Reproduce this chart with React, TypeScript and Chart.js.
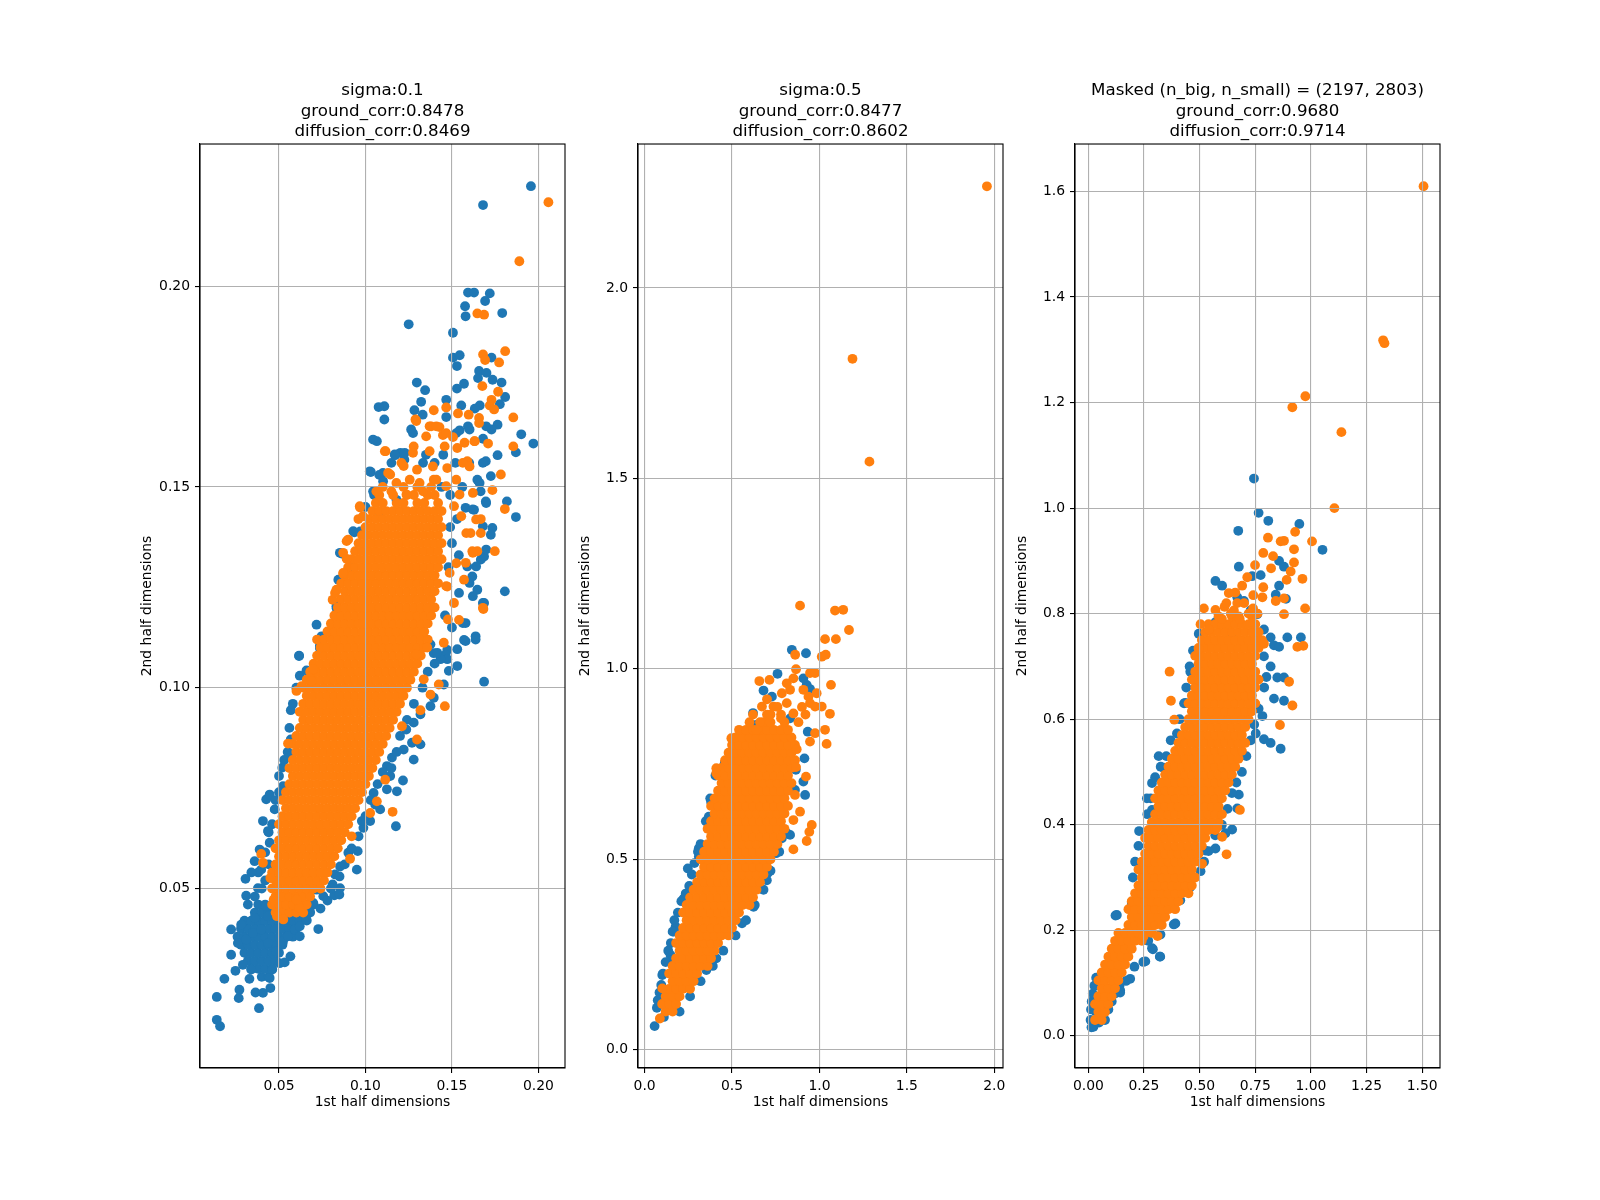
import React, { useEffect, useRef } from "react";
import { Chart, registerables } from "chart.js";

Chart.register(...registerables);

type Pt = [number, number];
type Row = [number, number[]];

const xAxisLabel = "1st half dimensions";
const yAxisLabel = "2nd half dimensions";

const p1Title = ["sigma:0.1", "ground_corr:0.8478", "diffusion_corr:0.8469"];
const p2Title = ["sigma:0.5", "ground_corr:0.8477", "diffusion_corr:0.8602"];
const p3Title = ["Masked (n_big, n_small) = (2197, 2803)", "ground_corr:0.9680", "diffusion_corr:0.9714"];

const p1XTicks = [0.05, 0.1, 0.15, 0.2];
const p1YTicks = [0.05, 0.1, 0.15, 0.2];
const p2XTicks = [0, 0.5, 1, 1.5, 2];
const p2YTicks = [0, 0.5, 1, 1.5, 2];
const p3XTicks = [0, 0.25, 0.5, 0.75, 1, 1.25, 1.5];
const p3YTicks = [0, 0.2, 0.4, 0.6, 0.8, 1, 1.2, 1.4, 1.6];

// ---------------- Panel 1 (sigma 0.1) ----------------
const p1Blue: Pt[] = [
  [0.1957, 0.2249], [0.168, 0.2202], [0.1593, 0.1984], [0.1628, 0.1984], [0.1719, 0.1982], [0.1692, 0.1963],
  [0.1576, 0.195], [0.1579, 0.1925], [0.1791, 0.1933], [0.125, 0.1905], [0.1506, 0.1884], [0.1506, 0.1822],
  [0.1545, 0.1828], [0.1529, 0.1801], [0.1729, 0.1822], [0.1657, 0.1789], [0.17, 0.1784], [0.1651, 0.1771],
  [0.1735, 0.1767], [0.1787, 0.176], [0.1297, 0.176], [0.1345, 0.1741], [0.1529, 0.1745], [0.157, 0.1757],
  [0.1808, 0.1724], [0.1777, 0.1706], [0.1661, 0.1703], [0.1632, 0.1695], [0.1467, 0.1717], [0.1554, 0.1703],
  [0.1322, 0.1712], [0.1109, 0.1701], [0.1109, 0.1668], [0.1283, 0.1691], [0.1331, 0.168], [0.1467, 0.1674],
  [0.1764, 0.1655], [0.1729, 0.1643], [0.1901, 0.1631], [0.1971, 0.1608], [0.1264, 0.1643], [0.1545, 0.1641],
  [0.1593, 0.1651], [0.168, 0.162], [0.1076, 0.1699], [0.1066, 0.1614], [0.1172, 0.1579], [0.1031, 0.1537],
  [0.1101, 0.1535], [0.1202, 0.1585], [0.1225, 0.1568], [0.187, 0.1586], [0.1764, 0.1579], [0.1696, 0.1564],
  [0.1725, 0.1527], [0.1647, 0.1518], [0.1666, 0.1489], [0.1696, 0.1464], [0.1818, 0.1464], [0.187, 0.1425],
  [0.1628, 0.1443], [0.1579, 0.1448], [0.1734, 0.1398], [0.1725, 0.1381], [0.1667, 0.1319], [0.1618, 0.1277],
  [0.1686, 0.1327], [0.1806, 0.124], [0.1686, 0.1211], [0.1647, 0.1244], [0.1589, 0.1302], [0.1541, 0.1236],
  [0.1579, 0.1161], [0.1637, 0.1128], [0.157, 0.1119], [0.0717, 0.1157], [0.0746, 0.1128], [0.0736, 0.1099],
  [0.0616, 0.108], [0.0862, 0.1334], [0.0936, 0.1387], [0.0969, 0.1389], [0.0833, 0.1198], [0.0843, 0.1269],
  [0.1531, 0.1096], [0.1473, 0.1094], [0.1395, 0.1086], [0.1463, 0.1082], [0.148, 0.13], [0.15, 0.136],
  [0.153, 0.142], [0.149, 0.148], [0.144, 0.15], [0.156, 0.15], [0.152, 0.156], [0.145, 0.158], [0.14, 0.156],
  [0.135, 0.158], [0.16, 0.156], [0.149, 0.14], [0.154, 0.133], [0.146, 0.118], [0.15, 0.115], [0.105, 0.148],
  [0.1, 0.145], [0.108, 0.153], [0.115, 0.156],
  [0.1044, 0.1618], [0.1025, 0.1539], [0.1102, 0.1514], [0.1169, 0.1581], [0.1227, 0.1585], [0.1333, 0.156],
  [0.1275, 0.1634], [0.1525, 0.1634], [0.1602, 0.1643], [0.1698, 0.1651], [0.1679, 0.156], [0.166, 0.151],
  [0.1698, 0.146], [0.1621, 0.1444], [0.1679, 0.1402], [0.1698, 0.1344], [0.164, 0.1302], [0.1602, 0.1261],
  [0.1621, 0.1228], [0.1563, 0.1161], [0.1679, 0.1211], [0.0929, 0.139], [0.0852, 0.1336], [0.091, 0.1302],
  [0.0832, 0.1203], [0.1044, 0.1489], [0.1179, 0.1468], [0.1083, 0.1427],
  [0.014, 0.0173], [0.0159, 0.0157], [0.014, 0.023], [0.0184, 0.0275], [0.0267, 0.0227], [0.0271, 0.0248],
  [0.0248, 0.0295], [0.0291, 0.031], [0.0339, 0.0298], [0.0329, 0.0275], [0.0384, 0.0202], [0.0364, 0.0241],
  [0.0407, 0.024], [0.045, 0.0252], [0.0446, 0.0277], [0.0461, 0.0298], [0.0504, 0.0314], [0.0533, 0.0316],
  [0.0566, 0.0331], [0.0223, 0.0335], [0.0223, 0.0398], [0.0262, 0.0364], [0.0281, 0.041], [0.031, 0.0373],
  [0.0349, 0.0389], [0.0397, 0.0398], [0.0359, 0.0427], [0.0436, 0.0364], [0.0484, 0.0343], [0.0523, 0.0368],
  [0.0552, 0.0381], [0.0591, 0.0398], [0.062, 0.0381], [0.062, 0.0406], [0.0678, 0.0443], [0.0727, 0.0399],
  [0.0659, 0.0422], [0.0436, 0.0431], [0.032, 0.046], [0.031, 0.0482], [0.0306, 0.0524], [0.0378, 0.0501],
  [0.0426, 0.0456], [0.0504, 0.0456], [0.0601, 0.0456], [0.0698, 0.0464], [0.0756, 0.0481], [0.082, 0.0483],
  [0.0853, 0.0501], [0.0717, 0.0497], [0.0359, 0.0568], [0.0397, 0.0547], [0.0388, 0.0597], [0.0446, 0.0614],
  [0.0407, 0.0668], [0.0436, 0.0643], [0.0426, 0.0722], [0.0446, 0.0734], [0.0475, 0.0697], [0.0519, 0.0801],
  [0.0523, 0.0755], [0.0568, 0.0871], [0.0572, 0.0834], [0.0568, 0.0944], [0.0616, 0.1079], [0.0659, 0.1043],
  [0.0736, 0.1104], [0.081, 0.051], [0.0849, 0.0485], [0.0824, 0.0535], [0.0853, 0.0555], [0.0901, 0.0589],
  [0.095, 0.0547], [0.0955, 0.0593], [0.0988, 0.0651], [0.1027, 0.0668], [0.0979, 0.0668], [0.1085, 0.0697],
  [0.1047, 0.0738], [0.1056, 0.0709], [0.1124, 0.0747], [0.1182, 0.0742], [0.1176, 0.0655], [0.1143, 0.078],
  [0.1217, 0.0769], [0.1124, 0.0805], [0.1153, 0.0826], [0.1221, 0.0846], [0.1269, 0.0863], [0.1279, 0.0821],
  [0.1318, 0.0859], [0.1236, 0.0896], [0.1279, 0.0913], [0.1318, 0.0934], [0.1376, 0.0954], [0.1395, 0.0975],
  [0.1453, 0.1008], [0.1482, 0.1042], [0.1473, 0.1071], [0.1434, 0.1071], [0.1531, 0.1054], [0.1686, 0.1015],
  [0.1579, 0.1116], [0.1637, 0.112], [0.1376, 0.1108], [0.1415, 0.1087],
  [0.04, 0.05], [0.042, 0.052], [0.038, 0.054], [0.034, 0.054], [0.036, 0.048], [0.044, 0.056], [0.042, 0.059],
  [0.044, 0.064], [0.046, 0.066], [0.048, 0.072], [0.05, 0.074], [0.05, 0.078], [0.053, 0.082], [0.055, 0.084],
  [0.056, 0.09], [0.058, 0.096], [0.06, 0.1], [0.062, 0.103], [0.074, 0.045], [0.078, 0.047], [0.08, 0.05],
  [0.085, 0.053], [0.088, 0.056], [0.092, 0.06], [0.096, 0.063], [0.1, 0.068], [0.103, 0.072], [0.107, 0.076],
  [0.11, 0.079], [0.115, 0.08], [0.118, 0.084], [0.12, 0.088], [0.124, 0.092], [0.128, 0.096], [0.133, 0.1],
  [0.136, 0.104], [0.14, 0.106],
];

const p1BlueCore: Row[] = [
  [0.028, [0.04, 0.044]],
  [0.03, [0.034, 0.038, 0.042, 0.046]],
  [0.032, [0.032, 0.036, 0.04, 0.044, 0.048]],
  [0.034, [0.03, 0.034, 0.038, 0.042, 0.046, 0.05]],
  [0.036, [0.028, 0.032, 0.036, 0.04, 0.044, 0.048, 0.052]],
  [0.038, [0.026, 0.03, 0.034, 0.038, 0.042, 0.046, 0.05, 0.054, 0.058]],
  [0.04, [0.028, 0.032, 0.036, 0.04, 0.044, 0.048, 0.052, 0.056, 0.06]],
  [0.042, [0.03, 0.034, 0.038, 0.042, 0.046, 0.05, 0.054, 0.058, 0.062, 0.066]],
  [0.044, [0.036, 0.04, 0.044, 0.048, 0.052, 0.056, 0.06, 0.064, 0.068]],
  [0.046, [0.038, 0.042, 0.046, 0.05, 0.054, 0.058, 0.062, 0.066, 0.07]],
];

const p1Orange: Pt[] = [
  [0.2058, 0.2209], [0.189, 0.2062], [0.1647, 0.1932], [0.1686, 0.1929], [0.168, 0.183], [0.1692, 0.1816],
  [0.1773, 0.181], [0.1808, 0.1838], [0.1676, 0.1751], [0.1767, 0.1737], [0.1729, 0.1717], [0.1719, 0.1703],
  [0.1744, 0.1693], [0.1855, 0.1673], [0.1395, 0.1691], [0.1467, 0.1698], [0.1597, 0.168], [0.1657, 0.1672],
  [0.1657, 0.1659], [0.1535, 0.1683], [0.1289, 0.1668], [0.138, 0.1651], [0.1428, 0.1649], [0.1448, 0.1629],
  [0.1351, 0.1626], [0.1506, 0.1624], [0.1632, 0.1614], [0.1709, 0.1608], [0.1855, 0.1601],
  [0.1116, 0.1589], [0.0969, 0.1449], [0.0959, 0.142], [0.0891, 0.1365], [0.0891, 0.1321], [0.0872, 0.1283],
  [0.081, 0.1219], [0.0824, 0.1236], [0.1783, 0.1531], [0.1734, 0.1492], [0.1806, 0.1445], [0.1667, 0.142],
  [0.1667, 0.1385], [0.1618, 0.134], [0.1748, 0.134], [0.1647, 0.134], [0.1682, 0.1196], [0.1541, 0.1169],
  [0.1512, 0.1211], [0.1473, 0.1252], [0.157, 0.1269], [0.158, 0.1311], [0.1608, 0.1385], [0.1512, 0.1452],
  [0.1395, 0.1518], [0.1473, 0.1547], [0.1531, 0.1597], [0.1589, 0.1564], [0.1279, 0.1601], [0.1221, 0.1552],
  [0.1298, 0.1543], [0.1143, 0.1531],
  [0.1112, 0.1589], [0.1208, 0.156], [0.1275, 0.1585], [0.1371, 0.1589], [0.139, 0.1551], [0.1458, 0.1601],
  [0.1467, 0.1634], [0.1371, 0.1651], [0.141, 0.1651], [0.1294, 0.1664], [0.1573, 0.161], [0.163, 0.1614],
  [0.1563, 0.156], [0.1602, 0.1551], [0.1525, 0.1518], [0.1131, 0.1535], [0.1179, 0.151], [0.1256, 0.1518],
  [0.1313, 0.151], [0.141, 0.1518], [0.1467, 0.1502], [0.1063, 0.1489], [0.115, 0.1489], [0.1237, 0.1481],
  [0.1333, 0.1489], [0.1544, 0.1481], [0.1621, 0.1485], [0.0967, 0.1452], [0.0986, 0.1427], [0.1554, 0.1427],
  [0.164, 0.1419], [0.1583, 0.1385], [0.1621, 0.1336], [0.09, 0.1369], [0.0871, 0.1336], [0.0871, 0.1286],
  [0.0832, 0.1244], [0.1525, 0.131], [0.1487, 0.1286], [0.1467, 0.1253], [0.1477, 0.117], [0.1679, 0.1199],
  [0.1459, 0.0954], [0.1298, 0.0871], [0.1318, 0.0944], [0.1376, 0.0983], [0.1424, 0.1008], [0.1337, 0.1021],
  [0.1295, 0.1083], [0.1357, 0.11], [0.1453, 0.1112], [0.1157, 0.0691], [0.1066, 0.0717], [0.1027, 0.0688],
  [0.092, 0.063], [0.0911, 0.0574], [0.1211, 0.0904], [0.1114, 0.0771], [0.0397, 0.0586], [0.0407, 0.0564],
  [0.045, 0.0526], [0.0469, 0.0472], [0.0488, 0.0431], [0.0525, 0.0423], [0.0617, 0.0452], [0.0601, 0.0472],
  [0.0552, 0.0861], [0.0601, 0.0992], [0.063, 0.1004], [0.0688, 0.1017], [0.0698, 0.1046],
];

const p1OrangeCore: Row[] = [
  [0.044, [0.048, 0.052, 0.056, 0.06, 0.064]],
  [0.046, [0.046, 0.05, 0.054, 0.058, 0.062, 0.066]],
  [0.048, [0.048, 0.052, 0.056, 0.06, 0.064, 0.068]],
  [0.05, [0.046, 0.05, 0.054, 0.058, 0.062, 0.066, 0.07, 0.074]],
  [0.052, [0.048, 0.052, 0.056, 0.06, 0.064, 0.068, 0.072, 0.076]],
  [0.054, [0.046, 0.05, 0.054, 0.058, 0.062, 0.066, 0.07, 0.074, 0.078]],
  [0.056, [0.048, 0.052, 0.056, 0.06, 0.064, 0.068, 0.072, 0.076, 0.08]],
  [0.058, [0.05, 0.054, 0.058, 0.062, 0.066, 0.07, 0.074, 0.078, 0.082]],
  [0.06, [0.048, 0.052, 0.056, 0.06, 0.064, 0.068, 0.072, 0.076, 0.08, 0.084]],
  [0.062, [0.05, 0.054, 0.058, 0.062, 0.066, 0.07, 0.074, 0.078, 0.082, 0.086]],
  [0.064, [0.052, 0.056, 0.06, 0.064, 0.068, 0.072, 0.076, 0.08, 0.084, 0.088]],
  [0.066, [0.05, 0.054, 0.058, 0.062, 0.066, 0.07, 0.074, 0.078, 0.082, 0.086, 0.09]],
  [0.068, [0.052, 0.056, 0.06, 0.064, 0.068, 0.072, 0.076, 0.08, 0.084, 0.088, 0.092]],
  [0.07, [0.054, 0.058, 0.062, 0.066, 0.07, 0.074, 0.078, 0.082, 0.086, 0.09, 0.094]],
  [0.072, [0.052, 0.056, 0.06, 0.064, 0.068, 0.072, 0.076, 0.08, 0.084, 0.088, 0.092, 0.096]],
  [0.074, [0.054, 0.058, 0.062, 0.066, 0.07, 0.074, 0.078, 0.082, 0.086, 0.09, 0.094, 0.098]],
  [0.076, [0.056, 0.06, 0.064, 0.068, 0.072, 0.076, 0.08, 0.084, 0.088, 0.092, 0.096, 0.1]],
  [0.078, [0.058, 0.062, 0.066, 0.07, 0.074, 0.078, 0.082, 0.086, 0.09, 0.094, 0.098, 0.102]],
  [0.08, [0.056, 0.06, 0.064, 0.068, 0.072, 0.076, 0.08, 0.084, 0.088, 0.092, 0.096, 0.1, 0.104]],
  [0.082, [0.058, 0.062, 0.066, 0.07, 0.074, 0.078, 0.082, 0.086, 0.09, 0.094, 0.098, 0.102, 0.106]],
  [0.084, [0.06, 0.064, 0.068, 0.072, 0.076, 0.08, 0.084, 0.088, 0.092, 0.096, 0.1, 0.104, 0.108]],
  [0.086, [0.058, 0.062, 0.066, 0.07, 0.074, 0.078, 0.082, 0.086, 0.09, 0.094, 0.098, 0.102, 0.106, 0.11]],
  [0.088, [0.06, 0.064, 0.068, 0.072, 0.076, 0.08, 0.084, 0.088, 0.092, 0.096, 0.1, 0.104, 0.108, 0.112]],
  [0.09, [0.062, 0.066, 0.07, 0.074, 0.078, 0.082, 0.086, 0.09, 0.094, 0.098, 0.102, 0.106, 0.11, 0.114]],
  [0.092, [0.064, 0.068, 0.072, 0.076, 0.08, 0.084, 0.088, 0.092, 0.096, 0.1, 0.104, 0.108, 0.112, 0.116]],
  [0.094, [0.062, 0.066, 0.07, 0.074, 0.078, 0.082, 0.086, 0.09, 0.094, 0.098, 0.102, 0.106, 0.11, 0.114, 0.118]],
  [0.096, [0.064, 0.068, 0.072, 0.076, 0.08, 0.084, 0.088, 0.092, 0.096, 0.1, 0.104, 0.108, 0.112, 0.116, 0.12]],
  [0.098, [0.066, 0.07, 0.074, 0.078, 0.082, 0.086, 0.09, 0.094, 0.098, 0.102, 0.106, 0.11, 0.114, 0.118, 0.122]],
  [0.1, [0.064, 0.068, 0.072, 0.076, 0.08, 0.084, 0.088, 0.092, 0.096, 0.1, 0.104, 0.108, 0.112, 0.116, 0.12, 0.124]],
  [0.102, [0.066, 0.07, 0.074, 0.078, 0.082, 0.086, 0.09, 0.094, 0.098, 0.102, 0.106, 0.11, 0.114, 0.118, 0.122, 0.126]],
  [0.104, [0.068, 0.072, 0.076, 0.08, 0.084, 0.088, 0.092, 0.096, 0.1, 0.104, 0.108, 0.112, 0.116, 0.12, 0.124, 0.128]],
  [0.106, [0.07, 0.074, 0.078, 0.082, 0.086, 0.09, 0.094, 0.098, 0.102, 0.106, 0.11, 0.114, 0.118, 0.122, 0.126, 0.13]],
  [0.108, [0.072, 0.076, 0.08, 0.084, 0.088, 0.092, 0.096, 0.1, 0.104, 0.108, 0.112, 0.116, 0.12, 0.124, 0.128, 0.132]],
  [0.11, [0.074, 0.078, 0.082, 0.086, 0.09, 0.094, 0.098, 0.102, 0.106, 0.11, 0.114, 0.118, 0.122, 0.126, 0.13, 0.134]],
  [0.112, [0.072, 0.076, 0.08, 0.084, 0.088, 0.092, 0.096, 0.1, 0.104, 0.108, 0.112, 0.116, 0.12, 0.124, 0.128, 0.132, 0.136]],
  [0.114, [0.078, 0.082, 0.086, 0.09, 0.094, 0.098, 0.102, 0.106, 0.11, 0.114, 0.118, 0.122, 0.126, 0.13, 0.134]],
  [0.116, [0.08, 0.084, 0.088, 0.092, 0.096, 0.1, 0.104, 0.108, 0.112, 0.116, 0.12, 0.124, 0.128, 0.132, 0.136]],
  [0.118, [0.082, 0.086, 0.09, 0.094, 0.098, 0.102, 0.106, 0.11, 0.114, 0.118, 0.122, 0.126, 0.13, 0.134, 0.138]],
  [0.12, [0.084, 0.088, 0.092, 0.096, 0.1, 0.104, 0.108, 0.112, 0.116, 0.12, 0.124, 0.128, 0.132, 0.136, 0.14]],
  [0.122, [0.086, 0.09, 0.094, 0.098, 0.102, 0.106, 0.11, 0.114, 0.118, 0.122, 0.126, 0.13, 0.134, 0.138]],
  [0.124, [0.088, 0.092, 0.096, 0.1, 0.104, 0.108, 0.112, 0.116, 0.12, 0.124, 0.128, 0.132, 0.136, 0.14]],
  [0.126, [0.086, 0.09, 0.094, 0.098, 0.102, 0.106, 0.11, 0.114, 0.118, 0.122, 0.126, 0.13, 0.134, 0.138, 0.142]],
  [0.128, [0.088, 0.092, 0.096, 0.1, 0.104, 0.108, 0.112, 0.116, 0.12, 0.124, 0.128, 0.132, 0.136, 0.14]],
  [0.13, [0.09, 0.094, 0.098, 0.102, 0.106, 0.11, 0.114, 0.118, 0.122, 0.126, 0.13, 0.134, 0.138, 0.142]],
  [0.132, [0.092, 0.096, 0.1, 0.104, 0.108, 0.112, 0.116, 0.12, 0.124, 0.128, 0.132, 0.136, 0.14, 0.144]],
  [0.134, [0.094, 0.098, 0.102, 0.106, 0.11, 0.114, 0.118, 0.122, 0.126, 0.13, 0.134, 0.138, 0.142]],
  [0.136, [0.096, 0.1, 0.104, 0.108, 0.112, 0.116, 0.12, 0.124, 0.128, 0.132, 0.136, 0.14, 0.144]],
  [0.138, [0.098, 0.102, 0.106, 0.11, 0.114, 0.118, 0.122, 0.126, 0.13, 0.134, 0.138, 0.142]],
  [0.14, [0.1, 0.104, 0.108, 0.112, 0.116, 0.12, 0.124, 0.128, 0.132, 0.136, 0.14, 0.144]],
  [0.142, [0.102, 0.106, 0.11, 0.114, 0.118, 0.122, 0.126, 0.13, 0.134, 0.138, 0.142]],
  [0.144, [0.104, 0.108, 0.112, 0.116, 0.12, 0.124, 0.128, 0.132, 0.136, 0.14, 0.144]],
  [0.146, [0.106, 0.11, 0.118, 0.122, 0.13, 0.134, 0.142]],
  [0.148, [0.108, 0.116, 0.124, 0.128, 0.136, 0.14]],
  [0.15, [0.11, 0.122, 0.13, 0.138]],
];

// ---------------- Panel 2 (sigma 0.5) ----------------
const p2Blue: Pt[] = [
  [0.842, 1.05], [0.923, 1.041], [0.76, 0.987], [0.68, 0.943], [0.728, 0.927], [0.62, 0.884], [0.639, 0.853],
  [0.62, 0.835], [0.832, 0.87], [0.927, 0.958], [0.908, 0.975], [0.946, 0.947], [0.914, 0.765], [0.933, 0.835],
  [0.865, 0.735], [0.908, 0.704], [0.918, 0.669], [0.86, 0.682], [0.832, 0.564], [0.785, 0.555], [0.752, 0.516],
  [0.703, 0.463], [0.699, 0.445], [0.623, 0.375], [0.557, 0.332], [0.41, 0.24], [0.353, 0.209], [0.177, 0.323],
  [0.167, 0.31], [0.224, 0.397], [0.247, 0.476], [0.31, 0.529], [0.31, 0.507], [0.38, 0.651], [0.367, 0.612],
  [0.458, 0.752], [0.528, 0.796], [0.148, 0.249], [0.148, 0.235], [0.101, 0.196], [0.091, 0.13], [0.11, 0.086],
  [0.057, 0.062],
  [0.07, 0.11], [0.075, 0.13], [0.085, 0.15], [0.095, 0.17], [0.105, 0.2], [0.12, 0.23], [0.135, 0.26],
  [0.15, 0.28], [0.16, 0.31], [0.17, 0.34], [0.19, 0.36], [0.21, 0.39], [0.235, 0.41], [0.255, 0.43],
  [0.27, 0.46], [0.285, 0.49], [0.305, 0.52], [0.32, 0.54], [0.35, 0.6], [0.375, 0.66], [0.405, 0.72],
  [0.2, 0.1], [0.26, 0.14], [0.32, 0.18], [0.39, 0.22], [0.45, 0.26], [0.52, 0.3], [0.58, 0.34], [0.63, 0.38],
  [0.68, 0.42], [0.72, 0.47], [0.77, 0.52], [0.81, 0.57],
];

const p2Orange: Pt[] = [
  [1.958, 2.267], [1.189, 1.814], [1.286, 1.544],
  [0.889, 1.166], [1.089, 1.153], [1.136, 1.155], [1.169, 1.102], [1.032, 1.078], [1.094, 1.078], [0.861, 1.037],
  [1.013, 1.032], [1.036, 1.037], [0.866, 0.999], [0.946, 0.989], [0.975, 0.989], [1.066, 0.958], [0.656, 0.968],
  [0.714, 0.971], [0.813, 0.962], [0.851, 0.975], [0.785, 0.936], [0.832, 0.945], [0.908, 0.945], [0.937, 0.927],
  [0.984, 0.936], [0.946, 0.91], [0.975, 0.901], [1.013, 0.901], [1.06, 0.882], [0.851, 0.883], [0.671, 0.901],
  [0.737, 0.901], [0.813, 0.91], [1.032, 0.84], [0.975, 0.831], [1.041, 0.803], [0.946, 0.809], [0.87, 0.789],
  [0.866, 0.742], [0.923, 0.717], [0.86, 0.669], [0.889, 0.625], [0.851, 0.603], [0.956, 0.59], [0.942, 0.572],
  [0.927, 0.548], [0.851, 0.526], [0.496, 0.818], [0.41, 0.739], [0.41, 0.726], [0.101, 0.161], [0.087, 0.082],
  [0.7, 0.92], [0.76, 0.9], [0.72, 0.88], [0.78, 0.87], [0.88, 0.86], [0.9, 0.9], [0.92, 0.88], [0.66, 0.86],
  [0.64, 0.84],
];

const p2OrangeCore: Row[] = [
  [0.1, [0.12, 0.16]],
  [0.12, [0.1, 0.14, 0.18]],
  [0.14, [0.12, 0.16, 0.2]],
  [0.16, [0.14, 0.18, 0.22, 0.26]],
  [0.18, [0.16, 0.2, 0.24, 0.28]],
  [0.2, [0.14, 0.18, 0.22, 0.26, 0.3]],
  [0.22, [0.16, 0.2, 0.24, 0.28, 0.32, 0.36]],
  [0.24, [0.18, 0.22, 0.26, 0.3, 0.34, 0.38]],
  [0.26, [0.2, 0.24, 0.28, 0.32, 0.36, 0.4]],
  [0.28, [0.18, 0.22, 0.26, 0.3, 0.34, 0.38, 0.42]],
  [0.3, [0.2, 0.24, 0.28, 0.32, 0.36, 0.4, 0.44, 0.48]],
  [0.32, [0.22, 0.26, 0.3, 0.34, 0.38, 0.42, 0.46, 0.5]],
  [0.34, [0.24, 0.28, 0.32, 0.36, 0.4, 0.44, 0.48, 0.52]],
  [0.36, [0.22, 0.26, 0.3, 0.34, 0.38, 0.42, 0.46, 0.5, 0.54]],
  [0.38, [0.24, 0.28, 0.32, 0.36, 0.4, 0.44, 0.48, 0.52, 0.56, 0.6]],
  [0.4, [0.26, 0.3, 0.34, 0.38, 0.42, 0.46, 0.5, 0.54, 0.58, 0.62]],
  [0.42, [0.28, 0.32, 0.36, 0.4, 0.44, 0.48, 0.52, 0.56, 0.6, 0.64]],
  [0.44, [0.3, 0.34, 0.38, 0.42, 0.46, 0.5, 0.54, 0.58, 0.62, 0.66]],
  [0.46, [0.32, 0.36, 0.4, 0.44, 0.48, 0.52, 0.56, 0.6, 0.64, 0.68]],
  [0.48, [0.34, 0.38, 0.42, 0.46, 0.5, 0.54, 0.58, 0.62, 0.66, 0.7]],
  [0.5, [0.32, 0.36, 0.4, 0.44, 0.48, 0.52, 0.56, 0.6, 0.64, 0.68, 0.72]],
  [0.52, [0.34, 0.38, 0.42, 0.46, 0.5, 0.54, 0.58, 0.62, 0.66, 0.7, 0.74]],
  [0.54, [0.36, 0.4, 0.44, 0.48, 0.52, 0.56, 0.6, 0.64, 0.68, 0.72, 0.76]],
  [0.56, [0.38, 0.42, 0.46, 0.5, 0.54, 0.58, 0.62, 0.66, 0.7, 0.74, 0.78]],
  [0.58, [0.36, 0.4, 0.44, 0.48, 0.52, 0.56, 0.6, 0.64, 0.68, 0.72, 0.76, 0.8]],
  [0.6, [0.38, 0.42, 0.46, 0.5, 0.54, 0.58, 0.62, 0.66, 0.7, 0.74, 0.78]],
  [0.62, [0.4, 0.44, 0.48, 0.52, 0.56, 0.6, 0.64, 0.68, 0.72, 0.76, 0.8]],
  [0.64, [0.38, 0.42, 0.46, 0.5, 0.54, 0.58, 0.62, 0.66, 0.7, 0.74, 0.78, 0.82]],
  [0.66, [0.4, 0.44, 0.48, 0.52, 0.56, 0.6, 0.64, 0.68, 0.72, 0.76, 0.8]],
  [0.68, [0.42, 0.46, 0.5, 0.54, 0.58, 0.62, 0.66, 0.7, 0.74, 0.78, 0.82]],
  [0.7, [0.44, 0.48, 0.52, 0.56, 0.6, 0.64, 0.68, 0.72, 0.76, 0.8, 0.84]],
  [0.72, [0.42, 0.46, 0.5, 0.54, 0.58, 0.62, 0.66, 0.7, 0.74, 0.78, 0.82]],
  [0.74, [0.44, 0.48, 0.52, 0.56, 0.6, 0.64, 0.68, 0.72, 0.76, 0.8, 0.84]],
  [0.76, [0.46, 0.5, 0.54, 0.58, 0.62, 0.66, 0.7, 0.74, 0.78, 0.82, 0.86]],
  [0.78, [0.48, 0.52, 0.56, 0.6, 0.64, 0.68, 0.72, 0.76, 0.8, 0.84]],
  [0.8, [0.5, 0.54, 0.58, 0.62, 0.66, 0.7, 0.74, 0.78, 0.82, 0.86]],
  [0.82, [0.52, 0.56, 0.6, 0.64, 0.68, 0.72, 0.76, 0.8, 0.84]],
  [0.84, [0.54, 0.58, 0.62, 0.66, 0.7, 0.74, 0.78, 0.82]],
  [0.86, [0.6, 0.68, 0.72, 0.8]],
  [0.88, [0.62, 0.7, 0.78]],
];

// ---------------- Panel 3 (masked) ----------------
const p3Blue: Pt[] = [
  [0.744, 1.056], [0.765, 0.991], [0.8085, 0.976], [0.948, 0.97], [0.6735, 0.957], [1.052, 0.921], [0.676, 0.889],
  [0.571, 0.862], [0.601, 0.853], [0.736, 0.871], [0.774, 0.873], [0.857, 0.9], [0.879, 0.889], [0.857, 0.853],
  [0.842, 0.836], [0.888, 0.828], [0.669, 0.831], [0.699, 0.824], [0.729, 0.806], [0.759, 0.799], [0.571, 0.784],
  [0.496, 0.762], [0.616, 0.766], [0.646, 0.755], [0.789, 0.77], [0.819, 0.755], [0.834, 0.74], [0.857, 0.737],
  [0.894, 0.755], [0.955, 0.755], [0.789, 0.719], [0.819, 0.7], [0.849, 0.679], [0.879, 0.679], [0.834, 0.639],
  [0.879, 0.635], [0.782, 0.606], [0.789, 0.562], [0.819, 0.555], [0.864, 0.544], [0.752, 0.573], [0.458, 0.69],
  [0.436, 0.631], [0.398, 0.573], [0.316, 0.53], [0.338, 0.508], [0.286, 0.479], [0.263, 0.45], [0.286, 0.428],
  [0.228, 0.388], [0.21, 0.33], [0.128, 0.229], [0.143, 0.177], [0.256, 0.141], [0.286, 0.166], [0.323, 0.15],
  [0.391, 0.213], [0.413, 0.257], [0.458, 0.282], [0.526, 0.351], [0.571, 0.355], [0.646, 0.391], [0.616, 0.384],
  [0.676, 0.457], [0.669, 0.431], [0.504, 0.312], [0.188, 0.108], [0.143, 0.086], [0.113, 0.079], [0.023, 0.017],
  [0.015, 0.028], [0.122, 0.228], [0.247, 0.14], [0.321, 0.15], [0.207, 0.131], [0.29, 0.164], [0.269, 0.18],
  [0.384, 0.211], [0.324, 0.192], [0.143, 0.082], [0.169, 0.104], [0.014, 0.016], [0.01, 0.03], [0.031, 0.047],
  [0.048, 0.025], [0.195, 0.252],
  [0.012, 0.05], [0.015, 0.065], [0.02, 0.08], [0.027, 0.095], [0.035, 0.11], [0.075, 0.03], [0.09, 0.05],
  [0.105, 0.065], [0.12, 0.08], [0.14, 0.095],
  [0.2, 0.3], [0.225, 0.36], [0.265, 0.42], [0.28, 0.45], [0.3, 0.49], [0.325, 0.51], [0.35, 0.53], [0.37, 0.56],
  [0.41, 0.6], [0.43, 0.63], [0.44, 0.66], [0.455, 0.7], [0.47, 0.73],
  [0.52, 0.33], [0.54, 0.35], [0.57, 0.38], [0.6, 0.4], [0.625, 0.43], [0.645, 0.46], [0.665, 0.48], [0.69, 0.5],
  [0.71, 0.53], [0.73, 0.56], [0.745, 0.59], [0.765, 0.62], [0.79, 0.66], [0.8, 0.68],
];

const p3Orange: Pt[] = [
  [1.506, 1.61], [1.3245, 1.318], [1.3305, 1.3125], [0.975, 1.212], [0.9165, 1.191], [1.137, 1.144], [1.1055, 1.0],
  [0.807, 0.944], [0.864, 0.937], [0.879, 0.938], [0.929, 0.955], [1.005, 0.937], [0.924, 0.922], [0.786, 0.915],
  [0.83, 0.909], [0.924, 0.897], [0.749, 0.892], [0.821, 0.886], [0.909, 0.88], [0.962, 0.866], [0.714, 0.869],
  [0.691, 0.853], [0.891, 0.864], [0.786, 0.85], [0.741, 0.835], [0.782, 0.831], [0.842, 0.824], [0.879, 0.829],
  [0.631, 0.839], [0.669, 0.82], [0.519, 0.81], [0.571, 0.807], [0.612, 0.813], [0.654, 0.806], [0.974, 0.81],
  [0.879, 0.799], [0.504, 0.78], [0.541, 0.77], [0.496, 0.733], [0.939, 0.737], [0.966, 0.739], [0.789, 0.743],
  [0.902, 0.671], [0.917, 0.626], [0.861, 0.589], [0.365, 0.69], [0.371, 0.635], [0.386, 0.599], [0.681, 0.428],
  [0.621, 0.344], [0.511, 0.326], [0.601, 0.377], [0.579, 0.395], [0.311, 0.189], [0.248, 0.188],
  [0.6, 0.79], [0.64, 0.8], [0.68, 0.79], [0.72, 0.8], [0.7, 0.82], [0.62, 0.82], [0.66, 0.84], [0.74, 0.81],
  [0.76, 0.8],
];

const p3OrangeCore: Row[] = [
  [0.03, [0.03, 0.06]],
  [0.045, [0.045, 0.075]],
  [0.06, [0.03, 0.06, 0.09]],
  [0.075, [0.045, 0.075, 0.105]],
  [0.09, [0.06, 0.09, 0.12]],
  [0.105, [0.045, 0.075, 0.105, 0.135]],
  [0.12, [0.06, 0.09, 0.12, 0.15]],
  [0.135, [0.075, 0.105, 0.135, 0.165]],
  [0.15, [0.09, 0.12, 0.15, 0.18]],
  [0.165, [0.105, 0.135, 0.165, 0.195]],
  [0.18, [0.12, 0.15, 0.18, 0.21, 0.24]],
  [0.195, [0.135, 0.165, 0.195, 0.225, 0.255, 0.285]],
  [0.21, [0.18, 0.21, 0.24, 0.27, 0.3, 0.33]],
  [0.225, [0.195, 0.225, 0.255, 0.285, 0.315, 0.345]],
  [0.24, [0.18, 0.21, 0.24, 0.27, 0.3, 0.33, 0.36, 0.39]],
  [0.255, [0.195, 0.225, 0.255, 0.285, 0.315, 0.345, 0.375, 0.405]],
  [0.27, [0.21, 0.24, 0.27, 0.3, 0.33, 0.36, 0.39, 0.42, 0.45]],
  [0.285, [0.225, 0.255, 0.285, 0.315, 0.345, 0.375, 0.405, 0.435, 0.465]],
  [0.3, [0.24, 0.27, 0.3, 0.33, 0.36, 0.39, 0.42, 0.45, 0.48]],
  [0.315, [0.225, 0.255, 0.285, 0.315, 0.345, 0.375, 0.405, 0.435, 0.465]],
  [0.33, [0.24, 0.27, 0.3, 0.33, 0.36, 0.39, 0.42, 0.45, 0.48]],
  [0.345, [0.255, 0.285, 0.315, 0.345, 0.375, 0.405, 0.435, 0.465, 0.495]],
  [0.36, [0.27, 0.3, 0.33, 0.36, 0.39, 0.42, 0.45, 0.48, 0.51]],
  [0.375, [0.255, 0.285, 0.315, 0.345, 0.375, 0.405, 0.435, 0.465, 0.495, 0.525]],
  [0.39, [0.27, 0.3, 0.33, 0.36, 0.39, 0.42, 0.45, 0.48, 0.51, 0.54, 0.57]],
  [0.405, [0.285, 0.315, 0.345, 0.375, 0.405, 0.435, 0.465, 0.495, 0.525, 0.555, 0.585]],
  [0.42, [0.3, 0.33, 0.36, 0.39, 0.42, 0.45, 0.48, 0.51, 0.54, 0.57, 0.6]],
  [0.435, [0.315, 0.345, 0.375, 0.405, 0.435, 0.465, 0.495, 0.525, 0.555, 0.585]],
  [0.45, [0.3, 0.33, 0.36, 0.39, 0.42, 0.45, 0.48, 0.51, 0.54, 0.57, 0.6]],
  [0.465, [0.315, 0.345, 0.375, 0.405, 0.435, 0.465, 0.495, 0.525, 0.555, 0.585, 0.615]],
  [0.48, [0.33, 0.36, 0.39, 0.42, 0.45, 0.48, 0.51, 0.54, 0.57, 0.6, 0.63]],
  [0.495, [0.345, 0.375, 0.405, 0.435, 0.465, 0.495, 0.525, 0.555, 0.585, 0.615, 0.645]],
  [0.51, [0.36, 0.39, 0.42, 0.45, 0.48, 0.51, 0.54, 0.57, 0.6, 0.63, 0.66]],
  [0.525, [0.375, 0.405, 0.435, 0.465, 0.495, 0.525, 0.555, 0.585, 0.615, 0.645, 0.675]],
  [0.54, [0.39, 0.42, 0.45, 0.48, 0.51, 0.54, 0.57, 0.6, 0.63, 0.66, 0.69]],
  [0.555, [0.405, 0.435, 0.465, 0.495, 0.525, 0.555, 0.585, 0.615, 0.645, 0.675, 0.705]],
  [0.57, [0.42, 0.45, 0.48, 0.51, 0.54, 0.57, 0.6, 0.63, 0.66, 0.69]],
  [0.585, [0.435, 0.465, 0.495, 0.525, 0.555, 0.585, 0.615, 0.645, 0.675, 0.705]],
  [0.6, [0.45, 0.48, 0.51, 0.54, 0.57, 0.6, 0.63, 0.66, 0.69, 0.72]],
  [0.615, [0.465, 0.495, 0.525, 0.555, 0.585, 0.615, 0.645, 0.675, 0.705, 0.735]],
  [0.63, [0.45, 0.48, 0.51, 0.54, 0.57, 0.6, 0.63, 0.66, 0.69, 0.72, 0.75]],
  [0.645, [0.465, 0.495, 0.525, 0.555, 0.585, 0.615, 0.645, 0.675, 0.705, 0.735]],
  [0.66, [0.48, 0.51, 0.54, 0.57, 0.6, 0.63, 0.66, 0.69, 0.72, 0.75]],
  [0.675, [0.465, 0.495, 0.525, 0.555, 0.585, 0.615, 0.645, 0.675, 0.705, 0.735, 0.765]],
  [0.69, [0.48, 0.51, 0.54, 0.57, 0.6, 0.63, 0.66, 0.69, 0.72, 0.75]],
  [0.705, [0.495, 0.525, 0.555, 0.585, 0.615, 0.645, 0.675, 0.705, 0.735]],
  [0.72, [0.48, 0.51, 0.54, 0.57, 0.6, 0.63, 0.66, 0.69, 0.72, 0.75]],
  [0.735, [0.495, 0.525, 0.555, 0.585, 0.615, 0.645, 0.675, 0.705, 0.735, 0.765]],
  [0.75, [0.51, 0.54, 0.57, 0.6, 0.63, 0.66, 0.69, 0.72, 0.75, 0.78]],
  [0.765, [0.525, 0.555, 0.585, 0.615, 0.645, 0.675, 0.705, 0.735, 0.765]],
  [0.78, [0.54, 0.57, 0.6, 0.63, 0.66, 0.69, 0.72, 0.75]],
  [0.795, [0.585, 0.645, 0.675, 0.735]],
];

// ---------------- rendering ----------------
const FONT = "'DejaVu Sans', 'Liberation Sans', sans-serif";
const BLUE = "#1f77b4";
const ORANGE = "#ff7f0e";
const POINT_R = 4.9;

const toXY = (pts: Pt[]) => pts.map(([x, y]) => ({ x, y }));
const expandRows = (rows: Row[]) => rows.flatMap(([y, xs]) => xs.map((x) => ({ x, y })));

const framePlugin = {
  id: "frame",
  afterDraw(chart: any) {
    const { ctx, chartArea: a } = chart;
    ctx.save();
    ctx.strokeStyle = "#000";
    ctx.lineWidth = 1.1;
    ctx.strokeRect(a.left, a.top, a.right - a.left, a.bottom - a.top);
    ctx.restore();
  },
};

interface PanelProps {
  axLeft: number;
  title: string[];
  blue: Pt[];
  blueCore: Row[];
  orange: Pt[];
  core: Row[];
  xMin: number;
  xMax: number;
  yMin: number;
  yMax: number;
  xTicks: number[];
  yTicks: number[];
  xDec: number;
  yDec: number;
}

const Y_BOX = 70;
const RIGHT_PAD = 30;
const X_BOX = 50;
const TITLE_PAD = 1.5;
const TITLE_H = 62.5 + TITLE_PAD;
const PLOT_W = 365;
const PLOT_H = 924;
const CANVAS_W = Y_BOX + PLOT_W + RIGHT_PAD;
const CANVAS_H = TITLE_H + PLOT_H + X_BOX;

function Panel(p: PanelProps) {
  const ref = useRef<HTMLCanvasElement | null>(null);
  useEffect(() => {
    if (!ref.current) return;
    const tickFont = { family: FONT, size: 13.9 };
    const gridOpts = {
      color: "#b0b0b0",
      lineWidth: 1.1,
      tickColor: "#000",
      tickLength: 5,
      tickWidth: 1.1,
      z: 1,
    };
    const borderOpts = { display: true, color: "#000", width: 1.1, z: 1 };
    const chart = new Chart(ref.current, {
      type: "scatter",
      data: {
        datasets: [
          {
            data: [...expandRows(p.blueCore), ...toXY(p.blue)],
            backgroundColor: BLUE,
            borderWidth: 0,
            pointRadius: POINT_R,
            pointHoverRadius: POINT_R,
            order: 2,
          },
          {
            data: [...expandRows(p.core), ...toXY(p.orange)],
            backgroundColor: ORANGE,
            borderWidth: 0,
            pointRadius: POINT_R,
            pointHoverRadius: POINT_R,
            order: 1,
          },
        ],
      },
      options: {
        animation: false,
        responsive: false,
        events: [],
        layout: { padding: { left: 0, right: RIGHT_PAD, top: 0, bottom: 0 } },
        plugins: {
          legend: { display: false },
          tooltip: { enabled: false },
          title: {
            display: true,
            text: p.title,
            fullSize: false,
            color: "#000",
            font: { family: FONT, size: 16.67, weight: "normal", lineHeight: 1.25 },
            padding: { top: 0, bottom: TITLE_PAD },
          },
        },
        scales: {
          x: {
            type: "linear",
            position: "bottom",
            min: p.xMin,
            max: p.xMax,
            afterFit: (s: any) => {
              s.height = X_BOX;
            },
            afterBuildTicks: (s: any) => {
              s.ticks = p.xTicks.map((v) => ({ value: v }));
            },
            ticks: {
              callback: (v: any) => Number(v).toFixed(p.xDec),
              color: "#000",
              font: tickFont,
              padding: 5,
              maxRotation: 0,
              autoSkip: false,
            },
            grid: gridOpts,
            border: borderOpts,
            title: {
              display: true,
              text: xAxisLabel,
              color: "#000",
              font: { family: FONT, size: 13.9, lineHeight: 1.2 },
              padding: { top: 0, bottom: 7 },
            },
          },
          y: {
            type: "linear",
            position: "left",
            min: p.yMin,
            max: p.yMax,
            afterFit: (s: any) => {
              s.width = Y_BOX;
            },
            afterBuildTicks: (s: any) => {
              s.ticks = p.yTicks.map((v) => ({ value: v }));
            },
            ticks: {
              callback: (v: any) => Number(v).toFixed(p.yDec),
              color: "#000",
              font: tickFont,
              padding: 5,
              autoSkip: false,
            },
            grid: gridOpts,
            border: borderOpts,
            title: {
              display: true,
              text: yAxisLabel,
              color: "#000",
              font: { family: FONT, size: 13.9, lineHeight: 1.2 },
              padding: { top: 9, bottom: 0 },
            },
          },
        },
      } as any,
      plugins: [framePlugin],
    });
    return () => chart.destroy();
  }, []);
  return (
    <canvas
      ref={ref}
      width={CANVAS_W}
      height={CANVAS_H}
      style={{
        position: "absolute",
        left: Math.round(p.axLeft - Y_BOX),
        top: Math.round(144 - TITLE_H),
        width: CANVAS_W,
        height: CANVAS_H,
      }}
    />
  );
}

export default function App() {
  return (
    <div
      style={{
        position: "absolute",
        left: 0,
        top: 0,
        width: 1600,
        height: 1200,
        background: "#fff",
        overflow: "hidden",
      }}
    >
      <Panel
        axLeft={200}
        title={p1Title}
        blue={p1Blue}
        blueCore={p1BlueCore}
        orange={p1Orange}
        core={p1OrangeCore}
        xMin={0.0043}
        xMax={0.2154}
        yMin={0.0053}
        yMax={0.2354}
        xTicks={p1XTicks}
        yTicks={p1YTicks}
        xDec={2}
        yDec={2}
      />
      <Panel
        axLeft={637.65}
        title={p2Title}
        blue={p2Blue}
        blueCore={[]}
        orange={p2Orange}
        core={p2OrangeCore}
        xMin={-0.038}
        xMax={2.05}
        yMin={-0.048}
        yMax={2.378}
        xTicks={p2XTicks}
        yTicks={p2YTicks}
        xDec={1}
        yDec={1}
      />
      <Panel
        axLeft={1075.3}
        title={p3Title}
        blue={p3Blue}
        blueCore={[]}
        orange={p3Orange}
        core={p3OrangeCore}
        xMin={-0.06}
        xMax={1.58}
        yMin={-0.061}
        yMax={1.69}
        xTicks={p3XTicks}
        yTicks={p3YTicks}
        xDec={2}
        yDec={1}
      />
    </div>
  );
}
